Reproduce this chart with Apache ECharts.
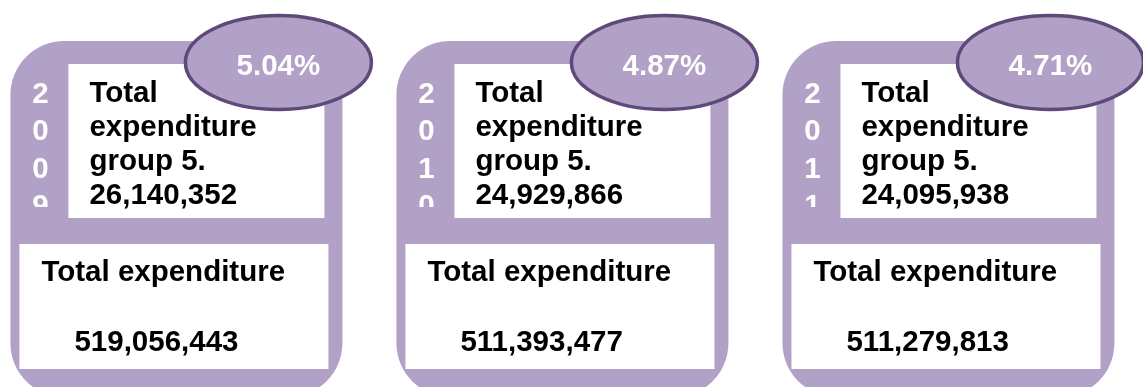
<!DOCTYPE html>
<html>
<head>
<meta charset="utf-8">
<title>Total expenditure group 5</title>
<script src="https://cdn.jsdelivr.net/npm/echarts@6/dist/echarts.min.js"></script>
<style>
  html, body { margin: 0; padding: 0; background: #ffffff; }
  #chart { width: 1143px; height: 387px; }
</style>
</head>
<body>
<div id="chart"></div>
<script>
// Yearly figures
const years = ['2009', '2010', '2011'];
const group5Expenditure = [26140352, 24929866, 24095938];
const totalExpenditure = [519056443, 511393477, 511279813];
const sharePercent = [5.04, 4.87, 4.71];

// Text captions
const groupCaption = ['Total', 'expenditure', 'group 5.'];
const totalCaption = 'Total expenditure';

const PURPLE = '#b2a1c7';
const PURPLE_DARK = '#5f497a';
const FONT = 'bold 29.5px "Liberation Sans", Arial, sans-serif';
const MID = 8.5; // distance from a text's middle line to its baseline

function fmt(n) {
  return String(n).replace(/\B(?=(\d{3})+(?!\d))/g, ',');
}

function renderPanel(params, api) {
  const i = params.dataIndex;
  const cx = api.coord([api.value(0), 0])[0];
  const L = cx - 166; // panel left edge
  const children = [];

  // rounded tile
  children.push({
    type: 'rect',
    shape: { x: L, y: 41, width: 332, height: 356, r: 54 },
    style: { fill: PURPLE }
  });
  // vertical year, one digit per line
  children.push({
    type: 'text',
    style: {
      text: years[i].split('').join('\n'),
      x: L + 30, y: 76,
      align: 'center', verticalAlign: 'top',
      lineHeight: 37.5,
      font: FONT, fill: '#ffffff'
    }
  });
  // cut the year column off above the lower box
  children.push({
    type: 'rect',
    shape: { x: L + 4, y: 207, width: 52, height: 36 },
    style: { fill: PURPLE }
  });
  // upper white box
  children.push({
    type: 'rect',
    shape: { x: L + 58, y: 64, width: 256, height: 154 },
    style: { fill: '#ffffff' }
  });
  children.push({
    type: 'text',
    style: {
      text: groupCaption.concat([fmt(group5Expenditure[i])]).join('\n'),
      x: L + 79, y: 76.5,
      align: 'left', verticalAlign: 'top',
      lineHeight: 34,
      font: FONT, fill: '#000000'
    }
  });
  // lower white box
  children.push({
    type: 'rect',
    shape: { x: L + 9, y: 244, width: 309, height: 125 },
    style: { fill: '#ffffff' }
  });
  children.push({
    type: 'text',
    style: {
      text: totalCaption,
      x: L + 31, y: 281.5 - MID,
      align: 'left', verticalAlign: 'middle',
      font: FONT, fill: '#000000'
    }
  });
  children.push({
    type: 'text',
    style: {
      text: fmt(totalExpenditure[i]),
      x: L + 64, y: 351.5 - MID,
      align: 'left', verticalAlign: 'middle',
      font: FONT, fill: '#000000'
    }
  });
  // share badge
  children.push({
    type: 'ellipse',
    shape: { cx: L + 268, cy: 62.5, rx: 93, ry: 47 },
    style: { fill: PURPLE, stroke: PURPLE_DARK, lineWidth: 3.5 }
  });
  children.push({
    type: 'text',
    style: {
      text: sharePercent[i].toFixed(2) + '%',
      x: L + 268, y: 75 - MID,
      align: 'center', verticalAlign: 'middle',
      font: FONT, fill: '#ffffff'
    }
  });

  return { type: 'group', children: children };
}

const chart = echarts.init(document.getElementById('chart'), null, { renderer: 'canvas' });
chart.setOption({
  backgroundColor: '#ffffff',
  animation: false,
  grid: { left: 0, right: 0, top: 0, bottom: 0 },
  // one unit = one panel pitch (386px); panels sit at 0, 1, 2
  xAxis: { type: 'value', min: -0.457, max: 2.504, show: false },
  yAxis: { type: 'value', min: 0, max: 1, show: false },
  series: [{
    type: 'custom',
    renderItem: renderPanel,
    data: years.map((y, i) => [i, 0]),
    clip: false
  }]
});
</script>
</body>
</html>
